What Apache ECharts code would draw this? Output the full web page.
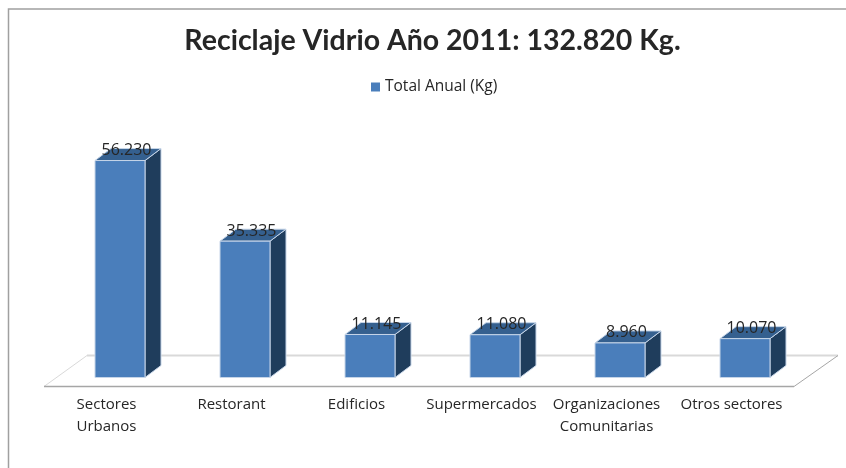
<!DOCTYPE html>
<html>
<head>
<meta charset="utf-8">
<script src="https://cdn.jsdelivr.net/npm/echarts@6/dist/echarts.min.js"></script>
<style>
html, body { margin: 0; padding: 0; background: #ffffff; }
#chart { width: 846px; height: 468px; }
</style>
</head>
<body>
<div id="chart"></div>
<script>
const categories = ['Sectores\nUrbanos', 'Restorant', 'Edificios', 'Supermercados', 'Organizaciones\nComunitarias', 'Otros sectores']
const totalAnual = [56230, 35335, 11145, 11080, 8960, 10070]
const valueLabels = ['56.230', '35.335', '11.145', '11.080', '8.960', '10.070']

const titleFont = 'Lato'
const textFont = '"Open Sans"'
const depthX = 16
const depthY = 12
// las barras van algo mas atras que el borde frontal del piso
const floorOffset = 13.5

const chart = echarts.init(document.getElementById('chart'))

// barra 3D: frente, lado y tapa
const renderBar = (params, api) => {
  const top = api.coord([api.value(0), api.value(1)])
  const base = api.coord([api.value(0), 0])
  const w = 50
  const cx = top[0] + floorOffset
  const l = cx - w / 2
  const r = cx + w / 2
  const stroke = { stroke: '#c6d5e8', lineWidth: 1 }
  return {
    type: 'group',
    children: [
      {
        type: 'polygon',
        shape: { points: [[r, top[1]], [r + depthX, top[1] - depthY], [r + depthX, base[1] - depthY], [r, base[1]]] },
        style: { fill: '#1f3d5c', ...stroke },
      },
      {
        type: 'polygon',
        shape: { points: [[l, top[1]], [l + depthX, top[1] - depthY], [r + depthX, top[1] - depthY], [r, top[1]]] },
        style: { fill: '#35608f', ...stroke },
      },
      {
        type: 'rect',
        shape: { x: l, y: top[1], width: w, height: base[1] - top[1] },
        style: { fill: '#4a7ebb', ...stroke },
      },
      {
        type: 'text',
        style: {
          x: cx + 6.5,
          y: top[1] - 10,
          text: valueLabels[params.dataIndex],
          fill: '#262626',
          font: '16px ' + textFont,
          align: 'center',
          verticalAlign: 'middle',
        },
      },
    ],
  }
}

// piso del grafico, sale del area del grid
const renderFloor = (params) => {
  const g = params.coordSys
  const bottom = g.y + g.height
  const frontY = bottom + 9
  const backY = bottom - 22
  const fl = g.x
  const fr = g.x + g.width
  return {
    type: 'group',
    silent: true,
    children: [
      { type: 'line', shape: { x1: fl + 43, y1: backY, x2: fr + 44, y2: backY }, style: { stroke: '#d9d9d9', lineWidth: 2 } },
      { type: 'line', shape: { x1: fl, y1: frontY, x2: fl + 43, y2: backY }, style: { stroke: '#d9d9d9', lineWidth: 1 } },
      { type: 'line', shape: { x1: fr, y1: frontY, x2: fr + 44, y2: backY }, style: { stroke: '#a6a6a6', lineWidth: 1 } },
      { type: 'line', shape: { x1: fl, y1: frontY, x2: fr, y2: frontY }, style: { stroke: '#a6a6a6', lineWidth: 1.5 } },
    ],
  }
}

chart.setOption({
  animation: false,
  backgroundColor: '#ffffff',
  graphic: [
    {
      type: 'polyline',
      shape: { points: [[8.5, 468], [8.5, 9], [846, 9]] },
      style: { stroke: '#a0a0a0', lineWidth: 1.5, fill: 'none' },
    },
  ],
  title: {
    text: 'Reciclaje Vidrio Año 2011: 132.820 Kg.',
    left: 427.5,
    textAlign: 'center',
    top: 21,
    textStyle: {
      fontFamily: titleFont,
      fontSize: 28.5,
      fontWeight: 'bold',
      color: '#262626',
    },
  },
  legend: {
    data: ['Total Anual (Kg)'],
    top: 74,
    left: 366,
    icon: 'rect',
    itemWidth: 9,
    itemHeight: 9,
    itemGap: 4,
    textStyle: { fontFamily: textFont, fontSize: 15.5, color: '#262626' },
  },
  grid: { left: 44, right: 52, top: 146, bottom: 90.5 },
  xAxis: {
    type: 'category',
    data: categories,
    axisLine: { show: false },
    axisTick: { show: false },
    axisLabel: {
      interval: 0,
      margin: 16,
      lineHeight: 22,
      fontFamily: textFont,
      fontSize: 15,
      color: '#262626',
    },
  },
  yAxis: {
    type: 'value',
    min: 0,
    max: 60000,
    show: false,
  },
  series: [
    {
      name: 'piso',
      type: 'custom',
      coordinateSystem: 'cartesian2d',
      silent: true,
      data: [[0, 0]],
      renderItem: renderFloor,
      z: 1,
    },
    {
      name: 'Total Anual (Kg)',
      type: 'custom',
      coordinateSystem: 'cartesian2d',
      itemStyle: { color: '#4a7ebb' },
      encode: { x: 0, y: 1 },
      data: totalAnual.map((v, i) => [i, v]),
      renderItem: renderBar,
      z: 2,
    },
  ],
})
</script>
</body>
</html>
